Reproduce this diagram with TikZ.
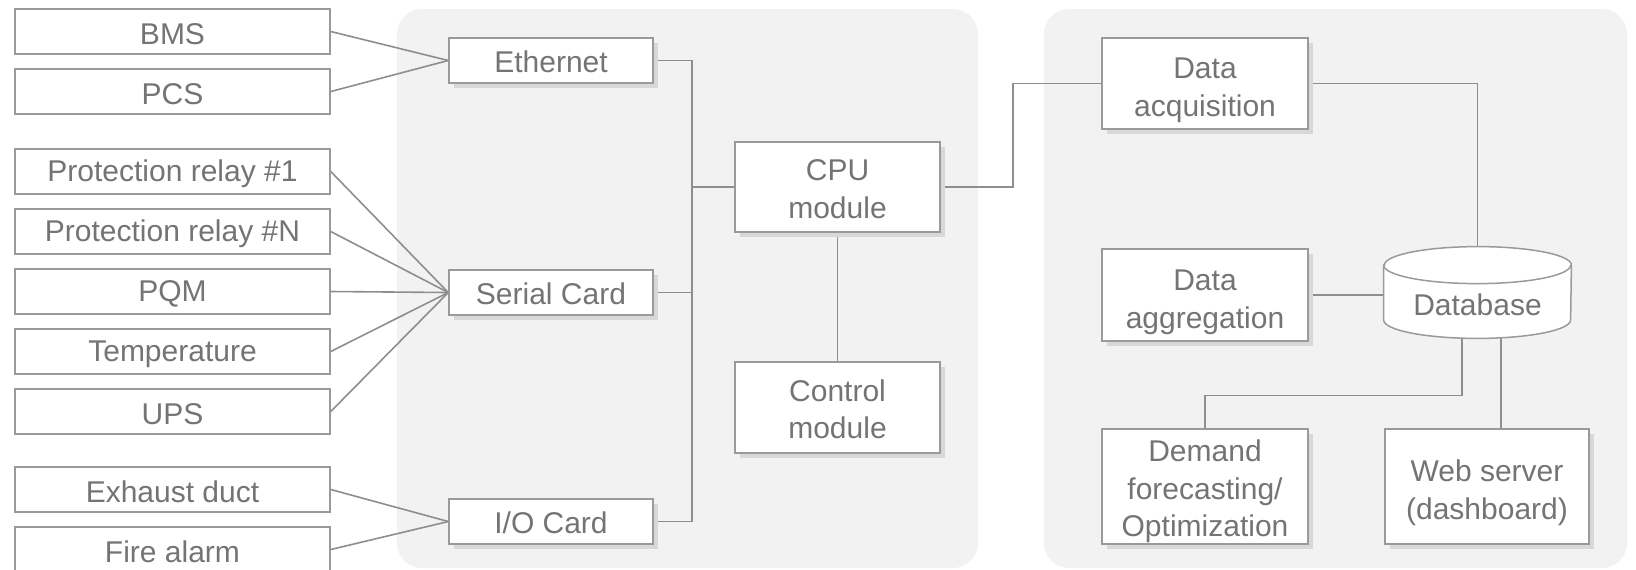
\documentclass[tikz,border=0pt]{standalone}
\usepackage{fontspec}
\setmainfont{Liberation Sans}
\usetikzlibrary{shadows,calc}
\definecolor{panelgray}{HTML}{F2F2F2}
\definecolor{edgegray}{HTML}{9A9A9A}
\definecolor{wiregray}{HTML}{8E8E8E}
\definecolor{textgray}{HTML}{747474}
\definecolor{shadowgray}{HTML}{D8D8D8}
\pgfdeclarelayer{bg}
\pgfsetlayers{bg,main}
% zero-width strut on a first line: pushes a text block down inside its box
\newcommand\firstline[1]{\rule{0pt}{#1}}
\begin{document}
\begin{tikzpicture}[x=0.5pt,y=-0.5pt,
  every node/.style={font=\fontsize{15pt}{18.75pt}\selectfont, text=textgray},
  lower/.style={execute at begin node={\firstline{#1}}},
  src/.style={draw=edgegray, line width=0.75pt, fill=white, inner sep=0pt,
    minimum width=157.5pt, minimum height=22.5pt, lower=13pt},
  card/.style={draw=edgegray, line width=0.75pt, fill=white, inner sep=0pt, align=center,
    general shadow={fill=shadowgray, shadow xshift=2.5pt, shadow yshift=-2.5pt}},
  wire/.style={draw=wiregray, line width=0.8pt},
  panel/.style={fill=panelgray, rounded corners=12.5pt}]
\useasboundingbox (0,0) rectangle (1636,569);

% field devices
\node[src] (bms)  at (172.5,31.5)  {BMS};
\node[src] (pcs)  at (172.5,91.5)  {PCS};
\node[src] (pr1)  at (172.5,171.5) {Protection relay \#1};
\node[src] (prn)  at (172.5,231.5) {Protection relay \#N};
\node[src] (pqm)  at (172.5,291.5) {PQM};
\node[src] (temp) at (172.5,351.5) {Temperature};
\node[src] (ups)  at (172.5,411.5) {UPS};
\node[src] (exh)  at (172.5,489.5) {Exhaust duct};
\node[src] (fire) at (172.5,549.5) {Fire alarm};

% controller
\node[card, lower=12.5pt, minimum width=102pt, minimum height=22.5pt] (eth)    at (551,60.5)  {Ethernet};
\node[card, lower=12.5pt, minimum width=102pt, minimum height=22.5pt] (serial) at (551,292.5) {Serial Card};
\node[card, lower=12.5pt, minimum width=102pt, minimum height=22.5pt] (io)     at (551,521.5) {I/O Card};
\node[card, minimum width=102.5pt, minimum height=45pt] (cpu)    at (837.5,187) {\firstline{12.8pt}CPU\\module};
\node[card, minimum width=102.5pt, minimum height=45.5pt] (ctrl) at (837.5,407.5) {\firstline{12.6pt}Control\\module};

% server side
\node[card, minimum width=103pt, minimum height=45.5pt] (da)   at (1205,83.5)  {\firstline{17pt}Data\\acquisition};
\node[card, minimum width=103pt, minimum height=46pt]   (dagg) at (1205,295)   {\firstline{17.5pt}Data\\aggregation};
\node[card, minimum width=103pt, minimum height=57.5pt] (dem)  at (1205,486.5) {\firstline{16pt}Demand\\forecasting/\\Optimization};
\node[card, minimum width=102pt, minimum height=57.5pt] (web)  at (1487,486.5) {\firstline{17pt}Web server\\(dashboard)};

% database cylinder
\node[minimum width=93.5pt, minimum height=45.5pt, inner sep=0pt] (db) at (1477.5,292.5) {};
\fill[shadowgray, shift={(2.5pt,-2.5pt)}]
  ([yshift=-9.25pt]db.north west) -- ([yshift=9.25pt]db.south west)
  arc[start angle=180, end angle=360, x radius=46.75pt, y radius=9.25pt]
  -- ([yshift=-9.25pt]db.north east)
  arc[start angle=0, end angle=180, x radius=46.75pt, y radius=9.25pt] -- cycle;
\filldraw[fill=white, draw=edgegray, line width=0.75pt]
  ([yshift=-9.25pt]db.north west) -- ([yshift=9.25pt]db.south west)
  arc[start angle=180, end angle=360, x radius=46.75pt, y radius=9.25pt]
  -- ([yshift=-9.25pt]db.north east)
  arc[start angle=0, end angle=180, x radius=46.75pt, y radius=9.25pt] -- cycle;
\draw[edgegray, line width=0.75pt] ([yshift=-9.25pt]db.north west)
  arc[start angle=180, end angle=360, x radius=46.75pt, y radius=9.25pt];
\node (dbl) at (1477.5,305) {Database};

\begin{pgfonlayer}{bg}
  \fill[panel] (397,9) rectangle (978,568);
  \fill[panel] (1044,9) rectangle (1627,568);
  % device links
  \draw[wire] (bms.east) -- (eth.west);
  \draw[wire] (pcs.east) -- (eth.west);
  \foreach \s in {pr1,prn,pqm,temp,ups}
    \draw[wire] (\s.east) -- (serial.west);
  \draw[wire] (exh.east) -- (io.west);
  \draw[wire] (fire.east) -- (io.west);
  % internal bus
  \draw[wire] (eth.east) -- ++(19pt,0) coordinate (bt) |- (io.east);
  \draw[wire] (serial.east) -- (serial.east -| bt);
  \draw[wire] (cpu.west) -- (cpu.west -| bt);
  \draw[wire] (cpu.south) -- (ctrl.north);
  % uplink and server links
  \draw[wire] (cpu.east) -- ++(36pt,0) |- (da.west);
  \draw[wire] (da.east) -| (db.north);
  \draw[wire] (dagg.east) -- (dagg.east -| db.west);
  \draw[wire] ([xshift=-7.75pt]db.south) -- ++(0,-28.5pt) -| (dem.north);
  \draw[wire] ([xshift=11.75pt]db.south) -- ([xshift=11.75pt]db.south |- web.north);
\end{pgfonlayer}
\end{tikzpicture}
\end{document}
